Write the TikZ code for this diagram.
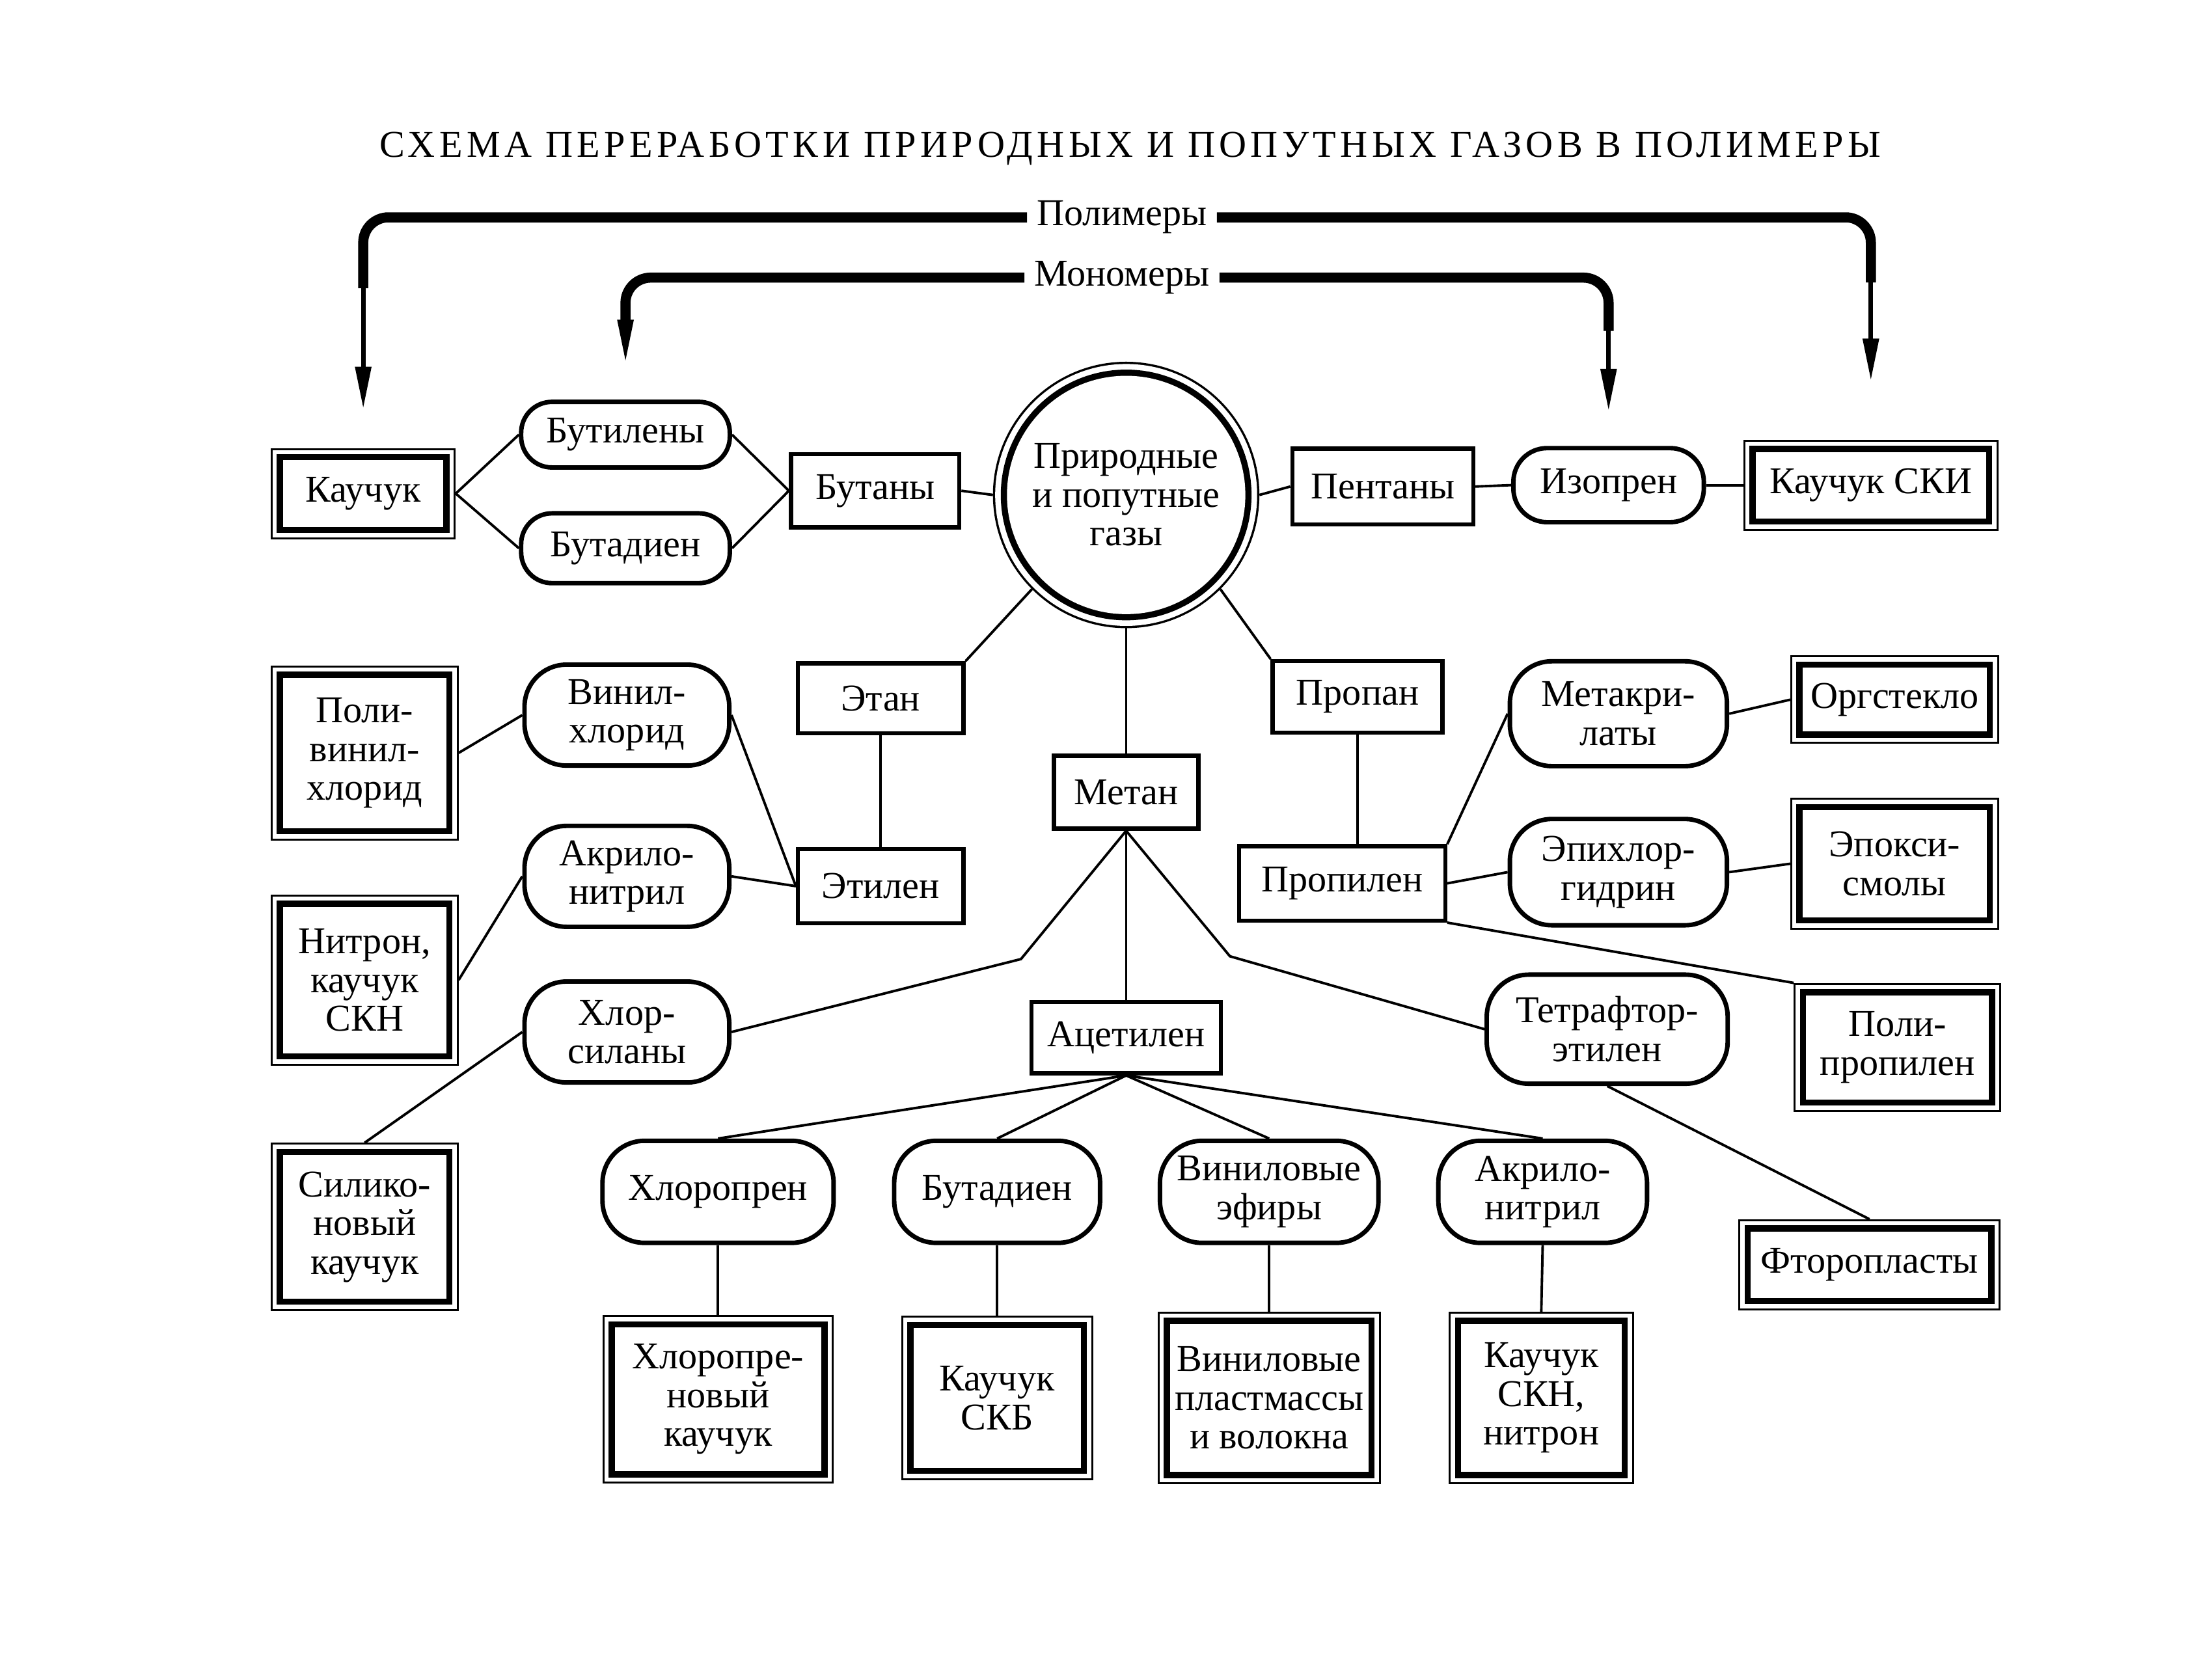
\documentclass[tikz,border=0pt]{standalone}
\usepackage{fontspec}
\setmainfont{Liberation Serif}
\newfontfamily\titlefont[LetterSpace=11]{Liberation Serif}
\usetikzlibrary{arrows.meta}

\begin{document}
\begin{tikzpicture}[
  x=0.5pt, y=-0.5pt,
  font=\fontsize{13.5}{13.8}\selectfont,
  wh/.style 2 args={minimum width=#1pt, minimum height=#2pt},
  prodbox/.style={
    rectangle,
    align=center,
    inner sep=1pt,
    fill=white,
    outer sep=4.4pt,
    preaction={draw, line width=8.8pt},
    preaction={draw=white, line width=7.4pt},
    preaction={draw, line width=4.4pt}
  },
  interbox/.style={
    rectangle,
    draw,
    line width=1.5pt,
    align=center,
    inner sep=1pt
  },
  monoblock/.style={
    rectangle,
    draw,
    line width=1.6pt,
    rounded corners=15pt,
    align=center,
    inner sep=1pt
  },
  gasnode/.style={
    circle,
    fill=white,
    align=center,
    inner sep=0pt,
    outer sep=5pt,
    minimum size=85pt,
    preaction={draw, line width=10pt},
    preaction={draw=white, line width=8.4pt},
    preaction={draw, line width=4.4pt}
  },
  link/.style={line width=0.9pt},
  bus/.style={line width=3.6pt, rounded corners=9pt},
  feed/.style={line width=1.6pt, -{Triangle[length=15pt,width=5.5pt]}}]
  \useasboundingbox (0,0) rectangle (1568,1198);

  \draw (806,106) node[font=\titlefont\fontsize{13.5}{15}\selectfont] (title)
    {СХЕМА ПЕРЕРАБОТКИ ПРИРОДНЫХ И ПОПУТНЫХ ГАЗОВ В ПОЛИМЕРЫ};

  % level 1
  \draw (259,352) node[prodbox,wh={57.2}{23.7}] (kauchuk) {Каучук};
  \draw (446,310) node[monoblock,rounded corners=11pt,wh={74.4}{23.4}] (butylenes) {Бутилены};
  \draw (446,391) node[monoblock,rounded corners=11pt,wh={74.4}{24.9}] (butadA) {Бутадиен};
  \draw (624,350) node[interbox,wh={60}{26}] (butanes) {Бутаны};
  \draw (803,353) node[gasnode] (gas) {Природные\\и попутные\\газы};
  \draw (986,347) node[interbox,wh={64.5}{27}] (pentanes) {Пентаны};
  \draw (1147,346) node[monoblock,rounded corners=12pt,wh={67.9}{26.4}] (isoprene) {Изопрен};
  \draw (1334,346) node[prodbox,wh={82.2}{23.7}] (kauchukSKI) {Каучук СКИ};

  % level 2
  \draw (628,498) node[interbox,wh={59}{25}] (ethane) {Этан};
  \draw (968,497) node[interbox,wh={60.5}{25.5}] (propane) {Пропан};
  \draw (803,565) node[interbox,wh={51.5}{26}] (methane) {Метан};
  \draw (628,632) node[interbox,wh={59}{26.5}] (ethylene) {Этилен};
  \draw (957,630) node[interbox,wh={73.5}{26.5}] (propylene) {Пропилен};
  \draw (803,740) node[interbox,wh={67.5}{25.5}] (acetylene) {Ацетилен};

  % left side
  \draw (260,537) node[prodbox,wh={58.2}{53.7}] (pvc) {Поли-\\винил-\\хлорид};
  \draw (260,699) node[prodbox,wh={58.2}{52.2}] (nitron) {Нитрон,\\каучук\\СКН};
  \draw (260,875) node[prodbox,wh={58.2}{51.2}] (silicone) {Силико-\\новый\\каучук};
  \draw (447,510) node[monoblock,wh={73}{36}] (vinylchl) {Винил-\\хлорид};
  \draw (447,625) node[monoblock,wh={73}{36}] (acryloA) {Акрило-\\нитрил};
  \draw (447,736) node[monoblock,wh={73}{36}] (chlorsil) {Хлор-\\силаны};

  % right side
  \draw (1154,509) node[monoblock,wh={77.4}{37.4}] (metacryl) {Метакри-\\латы};
  \draw (1154,622) node[monoblock,wh={77.4}{37.9}] (epichlor) {Эпихлор-\\гидрин};
  \draw (1146,734) node[monoblock,wh={85.9}{38.9}] (tetraf) {Тетрафтор-\\этилен};
  \draw (1351,499) node[prodbox,wh={65.7}{22.7}] (orgglass) {Оргстекло};
  \draw (1351,616) node[prodbox,wh={65.7}{38.2}] (epoxy) {Эпокси-\\смолы};
  \draw (1353,747) node[prodbox,wh={65.2}{37.2}] (polyprop) {Поли-\\пропилен};
  \draw (1333,902) node[prodbox,wh={84.7}{23.7}] (ftor) {Фторопласты};

  % level 3
  \draw (512,850) node[monoblock,wh={82.4}{36.4}] (chloroprene) {Хлоропрен};
  \draw (711,850) node[monoblock,wh={73.4}{36.4}] (butadB) {Бутадиен};
  \draw (905,850) node[monoblock,wh={77.9}{36.4}] (vinylether) {Виниловые\\эфиры};
  \draw (1100,850) node[monoblock,wh={74.4}{36.4}] (acryloB) {Акрило-\\нитрил};
  \draw (512,998) node[prodbox,wh={73.7}{51.2}] (chlororubber) {Хлоропре-\\новый\\каучук};
  \draw (711,997) node[prodbox,wh={59.7}{49.7}] (skb) {Каучук\\СКБ};
  \draw (905,997) node[prodbox,wh={70.7}{52.7}] (vinylplast) {Виниловые\\пластмассы\\и волокна};
  \draw (1099,997) node[prodbox,wh={57.2}{52.7}] (skn) {Каучук\\СКН,\\нитрон};

  % top arrows
  \draw (800,155) node (polym) {Полимеры};
  \draw (800,198) node (monom) {Мономеры};
  \draw[bus] (polym.west) -| ([yshift=57pt]kauchuk.north);
  \draw[feed] ([yshift=58pt]kauchuk.north) -- ([yshift=14pt]kauchuk.north);
  \draw[bus] (polym.east) -| ([yshift=56pt]kauchukSKI.north);
  \draw[feed] ([yshift=57pt]kauchukSKI.north) -- ([yshift=21pt]kauchukSKI.north);
  \draw[bus] (monom.west) -| ([yshift=28pt]butylenes.north);
  \draw[feed] ([yshift=29pt]butylenes.north) -- ([yshift=13.5pt]butylenes.north);
  \draw[bus] (monom.east) -| ([yshift=41pt]isoprene.north);
  \draw[feed] ([yshift=42pt]isoprene.north) -- ([yshift=12.5pt]isoprene.north);

  % links
  \draw[link] (kauchuk.east) -- (butylenes.west);
  \draw[link] (kauchuk.east) -- (butadA.west);
  \draw[link] (butylenes.east) -- (butanes.west);
  \draw[link] (butadA.east) -- (butanes.west);
  \draw[link] (butanes.east) -- (gas.west);
  \draw[link] (gas.east) -- (pentanes.west);
  \draw[link] (pentanes.east) -- (isoprene.west);
  \draw[link] (isoprene.east) -- (kauchukSKI.west);
  \draw[link] (gas.225) -- (ethane.north east);
  \draw[link] (gas.315) -- (propane.north west);
  \draw[link] (gas.south) -- (methane.north);
  \draw[link] (ethane.south) -- (ethylene.north);
  \draw[link] (propane.south) -- (propane.south |- propylene.north);
  \draw[link] (pvc.east) -- (vinylchl.west);
  \draw[link] (nitron.east) -- (acryloA.west);
  \draw[link] (vinylchl.east) -- (ethylene.west);
  \draw[link] (acryloA.east) -- (ethylene.west);
  \draw[link] (chlorsil.west) -- (silicone.north);
  \coordinate (bendL) at (728,684);
  \coordinate (bendR) at (877,682);
  \draw[link] (methane.south) -- (bendL) -- (chlorsil.east);
  \draw[link] (methane.south) -- (acetylene.north);
  \draw[link] (methane.south) -- (bendR) -- (tetraf.west);
  \draw[link] (propylene.north east) -- (metacryl.west);
  \draw[link] (propylene.east) -- (epichlor.west);
  \draw[link] (propylene.south east) -- (polyprop.north west);
  \draw[link] (metacryl.east) -- (orgglass.west);
  \draw[link] (epichlor.east) -- (epoxy.west);
  \draw[link] (tetraf.south) -- (ftor.north);
  \draw[link] (acetylene.south) -- (chloroprene.north);
  \draw[link] (acetylene.south) -- (butadB.north);
  \draw[link] (acetylene.south) -- (vinylether.north);
  \draw[link] (acetylene.south) -- (acryloB.north);
  \draw[link] (chloroprene.south) -- (chlororubber.north);
  \draw[link] (butadB.south) -- (skb.north);
  \draw[link] (vinylether.south) -- (vinylplast.north);
  \draw[link] (acryloB.south) -- (skn.north);

\end{tikzpicture}
\end{document}
